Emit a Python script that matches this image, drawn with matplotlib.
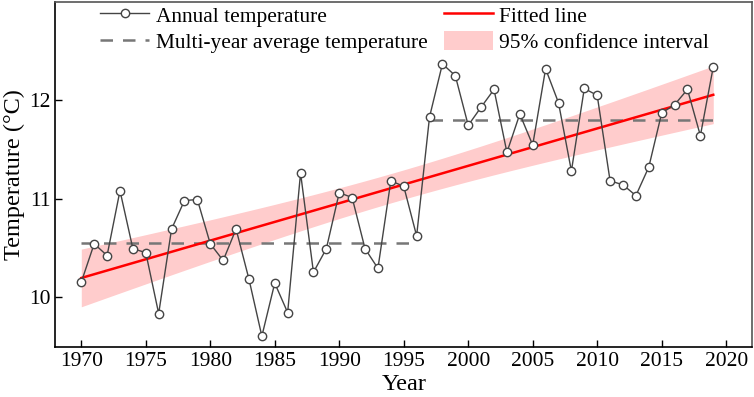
import numpy as np
import matplotlib
matplotlib.use("Agg")
import matplotlib.pyplot as plt
from matplotlib.patches import Patch
from matplotlib.lines import Line2D

years = list(range(1970, 2020))
temps = [10.15, 10.54, 10.42, 11.08, 10.49, 10.45, 9.83, 10.69, 10.98, 10.99,
         10.54, 10.37, 10.69, 10.18, 9.60, 10.14, 9.84, 11.26, 10.25, 10.49,
         11.06, 11.01, 10.49, 10.29, 11.18, 11.125, 10.62, 11.83, 12.37, 12.25,
         11.745, 11.93, 12.11, 11.47, 11.86, 11.545, 12.32, 11.975, 11.28, 12.12,
         12.05, 11.18, 11.14, 11.03, 11.32, 11.87, 11.955, 12.11, 11.64, 12.34]
avg_periods = [(1970, 1996), (1997, 2019)]
avg_values = [10.55, 11.80]
xticks = [1970, 1975, 1980, 1985, 1990, 1995, 2000, 2005, 2010, 2015, 2020]
yticks = [10, 11, 12]

plt.rcParams['font.family'] = ['Liberation Serif', 'DejaVu Serif']

x = np.array(years, dtype=float)
y = np.array(temps)
n = len(x)
b, a = np.polyfit(x, y, 1)
fit = a + b * x
resid = y - fit
s = np.sqrt(np.sum(resid ** 2) / (n - 2))
sxx = np.sum((x - x.mean()) ** 2)
tval = 2.0106
half = tval * s * np.sqrt(1.0 / n + (x - x.mean()) ** 2 / sxx)

fig = plt.figure(figsize=(7.54, 3.97), dpi=100)
ax = fig.add_axes([0.0736, 0.126, 0.9237, 0.869])

ax.fill_between(x, fit - half, fit + half, color='#ffcccc', lw=0, zorder=1)
for (s0, s1), v in zip(avg_periods, avg_values):
    ax.plot([s0, s1], [v, v], color='#777777', lw=1.8, ls=(0, (5, 4)), zorder=2)
ax.plot(x, fit, color='#ff0000', lw=1.8, zorder=3)
ax.plot(x, y, color='#444444', lw=1.0, marker='o', ms=6, mfc='white',
        mec='#444444', mew=1.0, zorder=4)

ax.set_xlim(1968, 2022)
ax.set_ylim(9.49, 13.0)
ax.set_xticks(xticks)
ax.set_yticks(yticks)
ax.tick_params(direction='in', labelsize=15.5, length=5, width=1, top=False, right=False)
for sp in ['left', 'bottom']:
    ax.spines[sp].set_color('black')
    ax.spines[sp].set_linewidth(1.2)
for sp in ['top', 'right']:
    ax.spines[sp].set_color('#555555')
    ax.spines[sp].set_linewidth(1.2)
ax.set_xlabel('Year', fontsize=17.5, labelpad=2)
ax.set_ylabel('Temperature (°C)', fontsize=17.5, labelpad=3)

handles = [
    Line2D([], [], color='#444444', lw=1.0, marker='o', ms=6, mfc='white', mec='#444444'),
    Line2D([], [], color='#777777', lw=1.8, ls=(0, (5, 4))),
    Line2D([], [], color='#ff0000', lw=1.8),
    Patch(facecolor='#ffcccc', edgecolor='none'),
]
labels = ['Annual temperature', 'Multi-year average temperature',
          'Fitted line', '95% confidence interval']
ax.legend(handles, labels, ncol=2, frameon=False, fontsize=15.4,
          loc='upper left', bbox_to_anchor=(0.052, 1.016),
          handlelength=2.3, handleheight=1.0, handletextpad=0.3, columnspacing=0.75,
          labelspacing=0.2, borderaxespad=0.0)

fig.savefig('out.png', dpi=100)
